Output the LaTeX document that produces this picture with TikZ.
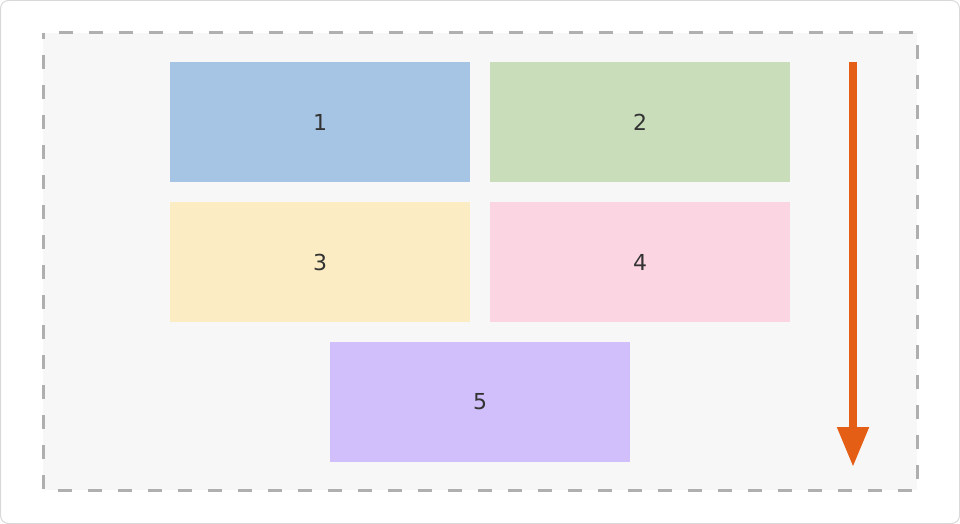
\documentclass[tikz,border=0pt]{standalone}
\usepackage{fontspec}
\setmainfont{DejaVu Sans}
\usetikzlibrary{arrows.meta}
\definecolor{bluebox}{HTML}{A6C4E3}
\definecolor{greenbox}{HTML}{C9DDBB}
\definecolor{yellowbox}{HTML}{FBECC3}
\definecolor{pinkbox}{HTML}{FCD5E3}
\definecolor{purplebox}{HTML}{D0BFFA}
\definecolor{flow}{HTML}{E55E16}
\definecolor{panel}{HTML}{F7F7F7}
\definecolor{dashline}{HTML}{AFAFAF}
\definecolor{frameline}{HTML}{D9D9D9}
\definecolor{digit}{HTML}{333333}
\begin{document}
\begin{tikzpicture}[x=1pt,y=-1pt,box/.style={minimum width=300pt,minimum height=120pt,inner sep=0pt,font=\fontsize{22}{26}\selectfont,text=digit}]
\useasboundingbox (0,0) rectangle (960,524);
\path[draw=frameline,line width=1pt,rounded corners=8pt,fill=white] (0.5,0.5) rectangle (959.5,523.5);
\path[draw=dashline,fill=panel,line width=3pt,dash pattern=on 14pt off 16pt,dash phase=8pt] (43,33) rectangle (917,490);
\node[box,fill=bluebox] (1) at (320,122) {1};
\node[box,fill=greenbox] (2) at (640,122) {2};
\node[box,fill=yellowbox] (3) at (320,262) {3};
\node[box,fill=pinkbox] (4) at (640,262) {4};
\node[box,fill=purplebox] (5) at (480,402) {5};
\coordinate (start) at (853,62);
\coordinate (end) at (853,467);
\path[draw=flow,line width=8pt,-{Triangle[length=40pt,width=30pt]}] (start) -- (end);
\end{tikzpicture}
\end{document}
